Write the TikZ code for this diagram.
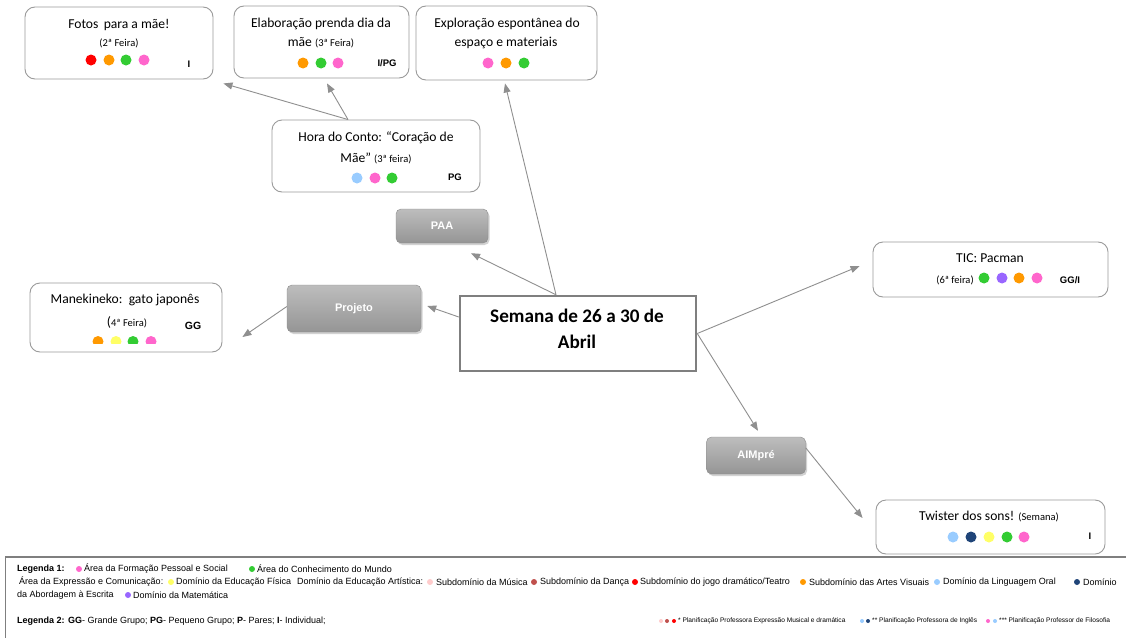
\documentclass[tikz,border=0pt]{standalone}
\usepackage{fontspec}
\setmainfont{Carlito}
\newfontfamily\arial{Liberation Sans}
\usetikzlibrary{arrows.meta,shadows}

\definecolor{vermelho}{HTML}{FF0000}
\definecolor{laranja}{HTML}{FF9900}
\definecolor{verde}{HTML}{33CC33}
\definecolor{rosa}{HTML}{FF66CC}
\definecolor{azulclaro}{HTML}{99CCFF}
\definecolor{azulescuro}{HTML}{1F4478}
\definecolor{amarelo}{HTML}{FFFF66}
\definecolor{roxo}{HTML}{9966FF}
\definecolor{rosaclaro}{HTML}{FFCCCC}
\definecolor{vermelhoescuro}{HTML}{C0504D}
\definecolor{borda}{HTML}{9A9A9A}
\definecolor{cinzatopo}{HTML}{BDBDBD}
\definecolor{cinzabase}{HTML}{959595}
\definecolor{cinzaborda}{HTML}{8C8C8C}
\definecolor{cinzaseta}{HTML}{8F8F8F}
\definecolor{cinzacentro}{HTML}{7F7F7F}

\tikzstyle{caixa}=[draw=borda, line width=0.9pt, rounded corners=10pt, fill=white]
\tikzstyle{cinza}=[draw=cinzaborda, rounded corners=5pt, top color=cinzatopo, bottom color=cinzabase,
  drop shadow={opacity=0.35, shadow xshift=1.5pt, shadow yshift=-2pt},
  text=white, font=\arial\bfseries\fontsize{11}{13}\selectfont]
\tikzstyle{titulo}=[inner sep=0pt, font=\bfseries\fontsize{19.2}{23}\selectfont]
\tikzstyle{texto}=[inner sep=0pt, font=\fontsize{13.6}{16}\selectfont]
\tikzstyle{dia}=[inner sep=0pt, font=\fontsize{10.5}{12}\selectfont]
\tikzstyle{grupo}=[inner sep=0pt, font=\arial\bfseries\fontsize{9.5}{11}\selectfont]
\tikzstyle{seta}=[draw=cinzaseta, line width=0.9pt, -{Triangle[length=9pt,width=7pt]}]
\tikzstyle{leg}=[inner sep=0pt, anchor=west, font=\arial\fontsize{9}{11}\selectfont]
\tikzstyle{legmini}=[inner sep=0pt, anchor=west, font=\arial\fontsize{6.6}{8}\selectfont]

\newcommand\peq[1]{{\fontsize{10.5}{12}\selectfont #1}}

\begin{document}
\begin{tikzpicture}[x=1pt,y=-1pt]
\useasboundingbox (0,0) rectangle (1126,637);
\fill[white] (0,0) rectangle (1126,637);

% caixas das atividades
\node[caixa, minimum width=188pt, minimum height=72pt] (fotos) at (119,43) {};
\node[caixa, minimum width=175pt, minimum height=72pt] (prenda) at (321.5,42) {};
\node[caixa, minimum width=181pt, minimum height=74pt] (explor) at (506.5,43) {};
\node[caixa, minimum width=208pt, minimum height=72pt] (conto) at (376,156) {};
\node[caixa, minimum width=192pt, minimum height=69pt] (maneki) at (126,317.5) {};
\node[caixa, minimum width=235pt, minimum height=55pt] (tic) at (990.5,269.5) {};
\node[caixa, minimum width=229pt, minimum height=54pt] (twister) at (990.5,527) {};

\node[texto] (fotos-t) at (119,25) {Fotos\, para a mãe!};
\node[dia] (fotos-d) at (119,43) {(2ª Feira)};
\node[grupo] (fotos-g) at (189,64) {I};
\foreach \x/\c in {91/vermelho,109/laranja,126/verde,144/rosa}
  \fill[\c] (\x,60) circle (5.5pt);

\node[texto] (prenda-t) at (321,24) {Elaboração prenda dia da};
\node[texto] (prenda-u) at (321,43) {mãe \peq{(3ª Feira)}};
\node[grupo] (prenda-g) at (387,63) {I/PG};
\foreach \x/\c in {303/laranja,321/verde,338/rosa}
  \fill[\c] (\x,63) circle (5.5pt);

\node[texto] (explor-t) at (507,24) {Exploração espontânea do};
\node[texto] (explor-u) at (506,43) {espaço e materiais};
\foreach \x/\c in {488/rosa,506/laranja,524/verde}
  \fill[\c] (\x,63) circle (5.5pt);

\node[texto] (conto-t) at (376,138) {Hora do Conto: “Coração de};
\node[texto] (conto-u) at (376,158) {Mãe” \peq{(3ª feira)}};
\node[grupo] (conto-g) at (455,177) {PG};
\foreach \x/\c in {357/azulclaro,375/rosa,392/verde}
  \fill[\c] (\x,178) circle (5.5pt);

\node[texto] (maneki-t) at (125,300) {Manekineko:\, gato japonês};
\node[texto] (maneki-u) at (127,322) {(\peq{4ª Feira)}};
\node[grupo, font=\arial\bfseries\fontsize{10.5}{12}\selectfont] (maneki-g) at (193,326) {GG};
\begin{scope}
  \clip (85,330) rectangle (165,343.5);
  \foreach \x/\c in {98/laranja,116/amarelo,133/verde,151/rosa}
    \fill[\c] (\x,341.5) circle (5.5pt);
\end{scope}

\node[texto] (tic-t) at (990,258) {TIC: Pacman};
\node[dia] (tic-d) at (955,280) {(6ª feira)};
\node[grupo] (tic-g) at (1070,280) {GG/I};
\foreach \x/\c in {984/verde,1002/roxo,1019/laranja,1037/rosa}
  \fill[\c] (\x,278) circle (5.5pt);

\node[texto] (twister-t) at (989,516) {Twister dos sons! \peq{(Semana)}};
\node[grupo] (twister-g) at (1090,536) {I};
\foreach \x/\c in {953/azulclaro,971/azulescuro,989/amarelo,1007/verde,1024/rosa}
  \fill[\c] (\x,537) circle (5.5pt);

% caixas cinzentas
\node[cinza, minimum width=92pt, minimum height=34pt] (paa) at (442,226) {PAA};
\node[cinza, minimum width=134pt, minimum height=47pt] (projeto) at (354,308.5) {Projeto};
\node[cinza, minimum width=99pt, minimum height=37pt] (aimpre) at (756,455.5) {AIMpré};

% centro
\node[draw=cinzacentro, line width=2.5pt, fill=white, minimum width=236pt, minimum height=75pt] (semana) at (578,333.5) {};
\node[titulo] (semana-1) at (577,316) {Semana de 26 a 30 de};
\node[titulo] (semana-2) at (577,342) {Abril};

% setas
\draw[seta] ([xshift=-22pt]semana.north) -- ([xshift=-1.5pt,yshift=-3pt]explor.south);
\draw[seta] ([xshift=-22pt]semana.north) -- ([xshift=29pt,yshift=-10pt]paa.south);
\draw[seta] ([yshift=16.5pt]semana.west) -- ([xshift=6pt,yshift=2.5pt]projeto.east);
\draw[seta] ([yshift=2pt]projeto.west) -- ([xshift=20pt,yshift=-19.5pt]maneki.east);
\draw[seta] ([xshift=-28pt]conto.north) -- ([xshift=10pt,yshift=-4pt]fotos.south east);
\draw[seta] ([xshift=-28pt]conto.north) -- ([xshift=5.5pt,yshift=-5pt]prenda.south);
\draw[seta] (semana.east) -- ([xshift=-13pt,yshift=3.5pt]tic.west);
\draw[seta] (semana.east) -- ([xshift=2pt,yshift=6pt]aimpre.north);
\draw[seta] ([yshift=-11pt]aimpre.north east) -- ([xshift=-13pt,yshift=9pt]twister.west);

% legenda
\draw[cinzacentro, line width=1.8pt] (1130,557) -- (5,557);
\draw[cinzacentro, line width=0.8pt] (5,557) -- (5,640);

\node[leg, font=\arial\bfseries\fontsize{9}{11}\selectfont] (leg1) at (17,569) {Legenda 1:};
\node[leg] (leg1a) at (84,569) {Área da Formação Pessoal e Social};
\node[leg] (leg1b) at (257,569) {Área do Conhecimento do Mundo};
\node[leg] (leg2a) at (19,582) {Área da Expressão e Comunicação:};
\node[leg] (leg2b) at (176,582) {Domínio da Educação Física};
\node[leg] (leg2c) at (297,582) {Domínio da Educação Artística:};
\node[leg] (leg2d) at (436,582) {Subdomínio da Música};
\node[leg] (leg2e) at (540,582) {Subdomínio da Dança};
\node[leg] (leg2f) at (640,582) {Subdomínio do jogo dramático/Teatro};
\node[leg] (leg2g) at (809,582) {Subdomínio das Artes Visuais};
\node[leg] (leg2h) at (943,582) {Domínio da Linguagem Oral};
\node[leg] (leg2i) at (1083,582) {Domínio};
\node[leg] (leg3a) at (17,595) {da Abordagem à Escrita};
\node[leg] (leg3b) at (133,595) {Domínio da Matemática};
\node[leg] (leg4) at (17,621) {\textbf{Legenda 2:} \textbf{GG}- Grande Grupo; \textbf{PG}- Pequeno Grupo; \textbf{P}- Pares; \textbf{I}- Individual;};
\foreach \x/\y/\c in {79/569/rosa,252/569/verde,171/582/amarelo,430/582/rosaclaro,534/582/vermelhoescuro,
    635/582/vermelho,803/582/laranja,937/582/azulclaro,1077/582/azulescuro,128/595/roxo}
  \fill[\c] (\x,\y) circle (3pt);

\node[legmini] (leg5a) at (678,621) {* Planificação Professora Expressão Musical e dramática};
\node[legmini] (leg5b) at (872,621) {** Planificação Professora de Inglês};
\node[legmini] (leg5c) at (999,621) {*** Planificação Professor de Filosofia};
\foreach \x/\c in {661/rosaclaro,667/vermelhoescuro,674/vermelho,862/azulclaro,868/azulescuro,988/rosa,995/azulclaro}
  \fill[\c] (\x,621) circle (2pt);
\end{tikzpicture}
\end{document}
